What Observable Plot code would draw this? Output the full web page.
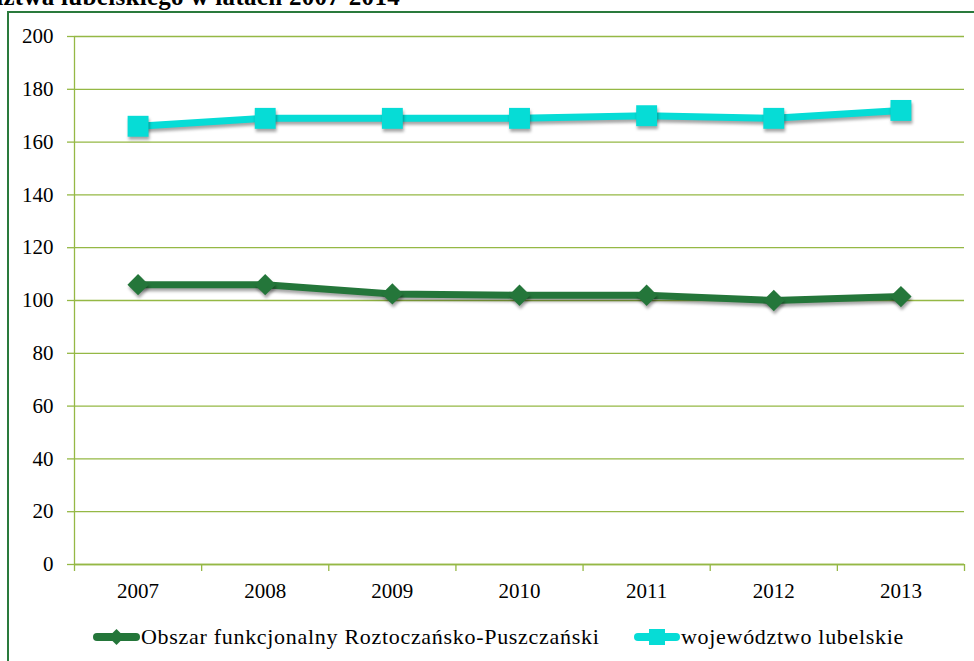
<!DOCTYPE html>
<html>
<head>
<meta charset="utf-8">
<script src="https://cdn.jsdelivr.net/npm/d3@7"></script>
<script src="https://cdn.jsdelivr.net/npm/@observablehq/plot@0.6"></script>
<style>
  html, body { margin: 0; padding: 0; background: #fff; }
  body { width: 974px; height: 661px; overflow: hidden; position: relative; font-family: "Liberation Serif", serif; }
  #title { position: absolute; right: 574px; top: -16px; font-size: 25px; line-height: 25px; letter-spacing: 0.3px; font-weight: bold; white-space: nowrap; color: #000; }
  #frame { position: absolute; left: 7px; top: 11px; width: 2000px; height: 2000px; border: 2px solid #2a7a3c; box-sizing: border-box; }
  #chart { position: absolute; left: 0; top: 0; }
  #legend { position: absolute; top: 624px; left: 0; width: 974px; height: 26px; font-size: 22px; letter-spacing: 0.7px; }
  .item { position: absolute; top: 0; display: flex; align-items: center; white-space: nowrap; height: 26px; }
  .shadow { filter: drop-shadow(1px 3px 1.5px rgba(0,0,0,0.35)); }
</style>
</head>
<body>
<div id="frame"></div>
<div id="title">Wykres. Liczba ludności na 1 km² obszaru funkcjonalnego na tle województwa lubelskiego w latach 2007-2014</div>
<div id="chart"></div>
<div id="legend"></div>
<script>
const years = [2007, 2008, 2009, 2010, 2011, 2012, 2013];
const obszar = [106, 106, 102.5, 102, 102, 100, 101.5];
const lubelskie = [166, 169, 169, 169, 170, 169, 172];
const yTicks = [0, 20, 40, 60, 80, 100, 120, 140, 160, 180, 200];
const seriesNames = ["Obszar funkcjonalny Roztoczańsko-Puszczański", "województwo lubelskie"];
const seriesColors = ["#24763a", "#06dcd6"];
const seriesSymbols = ["diamond2", "square"];

const gridColor = "#95b845";
const boundaries = years.map(y => y - 0.5).concat([years[years.length - 1] + 0.5]);

const data = [];
years.forEach((y, i) => {
  data.push({year: y, value: obszar[i], series: seriesNames[0]});
  data.push({year: y, value: lubelskie[i], series: seriesNames[1]});
});

const chart = Plot.plot({
  width: 974,
  height: 615,
  marginLeft: 74,
  marginRight: 10,
  marginTop: 36,
  marginBottom: 51,
  x: {type: "linear", domain: [boundaries[0], boundaries[boundaries.length - 1]]},
  y: {domain: [0, 200]},
  color: {domain: seriesNames, range: seriesColors},
  symbol: {domain: seriesNames, range: seriesSymbols},
  style: {fontFamily: "Liberation Serif, serif", fontSize: "21px", color: "#000", background: "transparent", overflow: "visible"},
  marks: [
    Plot.gridY(yTicks, {stroke: gridColor, strokeOpacity: 1, strokeWidth: 1.3}),
    Plot.ruleX([boundaries[0]], {y1: 0, y2: 200, stroke: gridColor, strokeWidth: 1.3}),
    Plot.axisY(yTicks, {tickSize: 7, tickPadding: 14, stroke: gridColor, strokeWidth: 1.3, fill: "#000", fontSize: 21, label: null, tickFormat: d => String(d)}),
    Plot.axisX(boundaries, {tickSize: 7, stroke: gridColor, strokeWidth: 1.3, tickFormat: () => "", label: null}),
    Plot.axisX(years, {tickSize: 0, tickPadding: 19, fill: "#000", fontSize: 21, label: null, tickFormat: d => String(d)}),
    Plot.ruleY([0], {stroke: gridColor, strokeWidth: 1.3}),
    Plot.line(data, {x: "year", y: "value", z: "series", stroke: "series", strokeWidth: 7, className: "shadow"}),
    Plot.dot(data.filter(d => d.series === seriesNames[1]), {x: "year", y: "value", symbol: "series", fill: "series", r: 11.8, stroke: "none", className: "shadow"}),
    Plot.dot(data.filter(d => d.series === seriesNames[0]), {x: "year", y: "value", symbol: "series", fill: "series", r: 9.6, stroke: "none", className: "shadow"})
  ]
});
document.getElementById("chart").appendChild(chart);

// legend
const legend = document.getElementById("legend");
const legendPos = [{lineX: 93, lineW: 47, textX: 141}, {lineX: 634, lineW: 46, textX: 680}];
seriesNames.forEach((name, i) => {
  const item = document.createElement("div");
  item.className = "item";
  item.style.left = legendPos[i].lineX + "px";
  const w = legendPos[i].lineW;
  const sym = i === 0
    ? `<path d="M${w/2},5 L${w/2+8},13 L${w/2},21 L${w/2-8},13 Z" fill="${seriesColors[i]}"/>`
    : `<rect x="${w/2-8}" y="5" width="16" height="16" fill="${seriesColors[i]}"/>`;
  item.innerHTML = `<svg width="${w}" height="26" style="display:block"><line x1="4" x2="${w-4}" y1="13" y2="13" stroke="${seriesColors[i]}" stroke-width="8" stroke-linecap="round"/>${sym}</svg><span id="lt${i}" style="margin-left:1px">${name}</span>`;
  legend.appendChild(item);
});
</script>
</body>
</html>
